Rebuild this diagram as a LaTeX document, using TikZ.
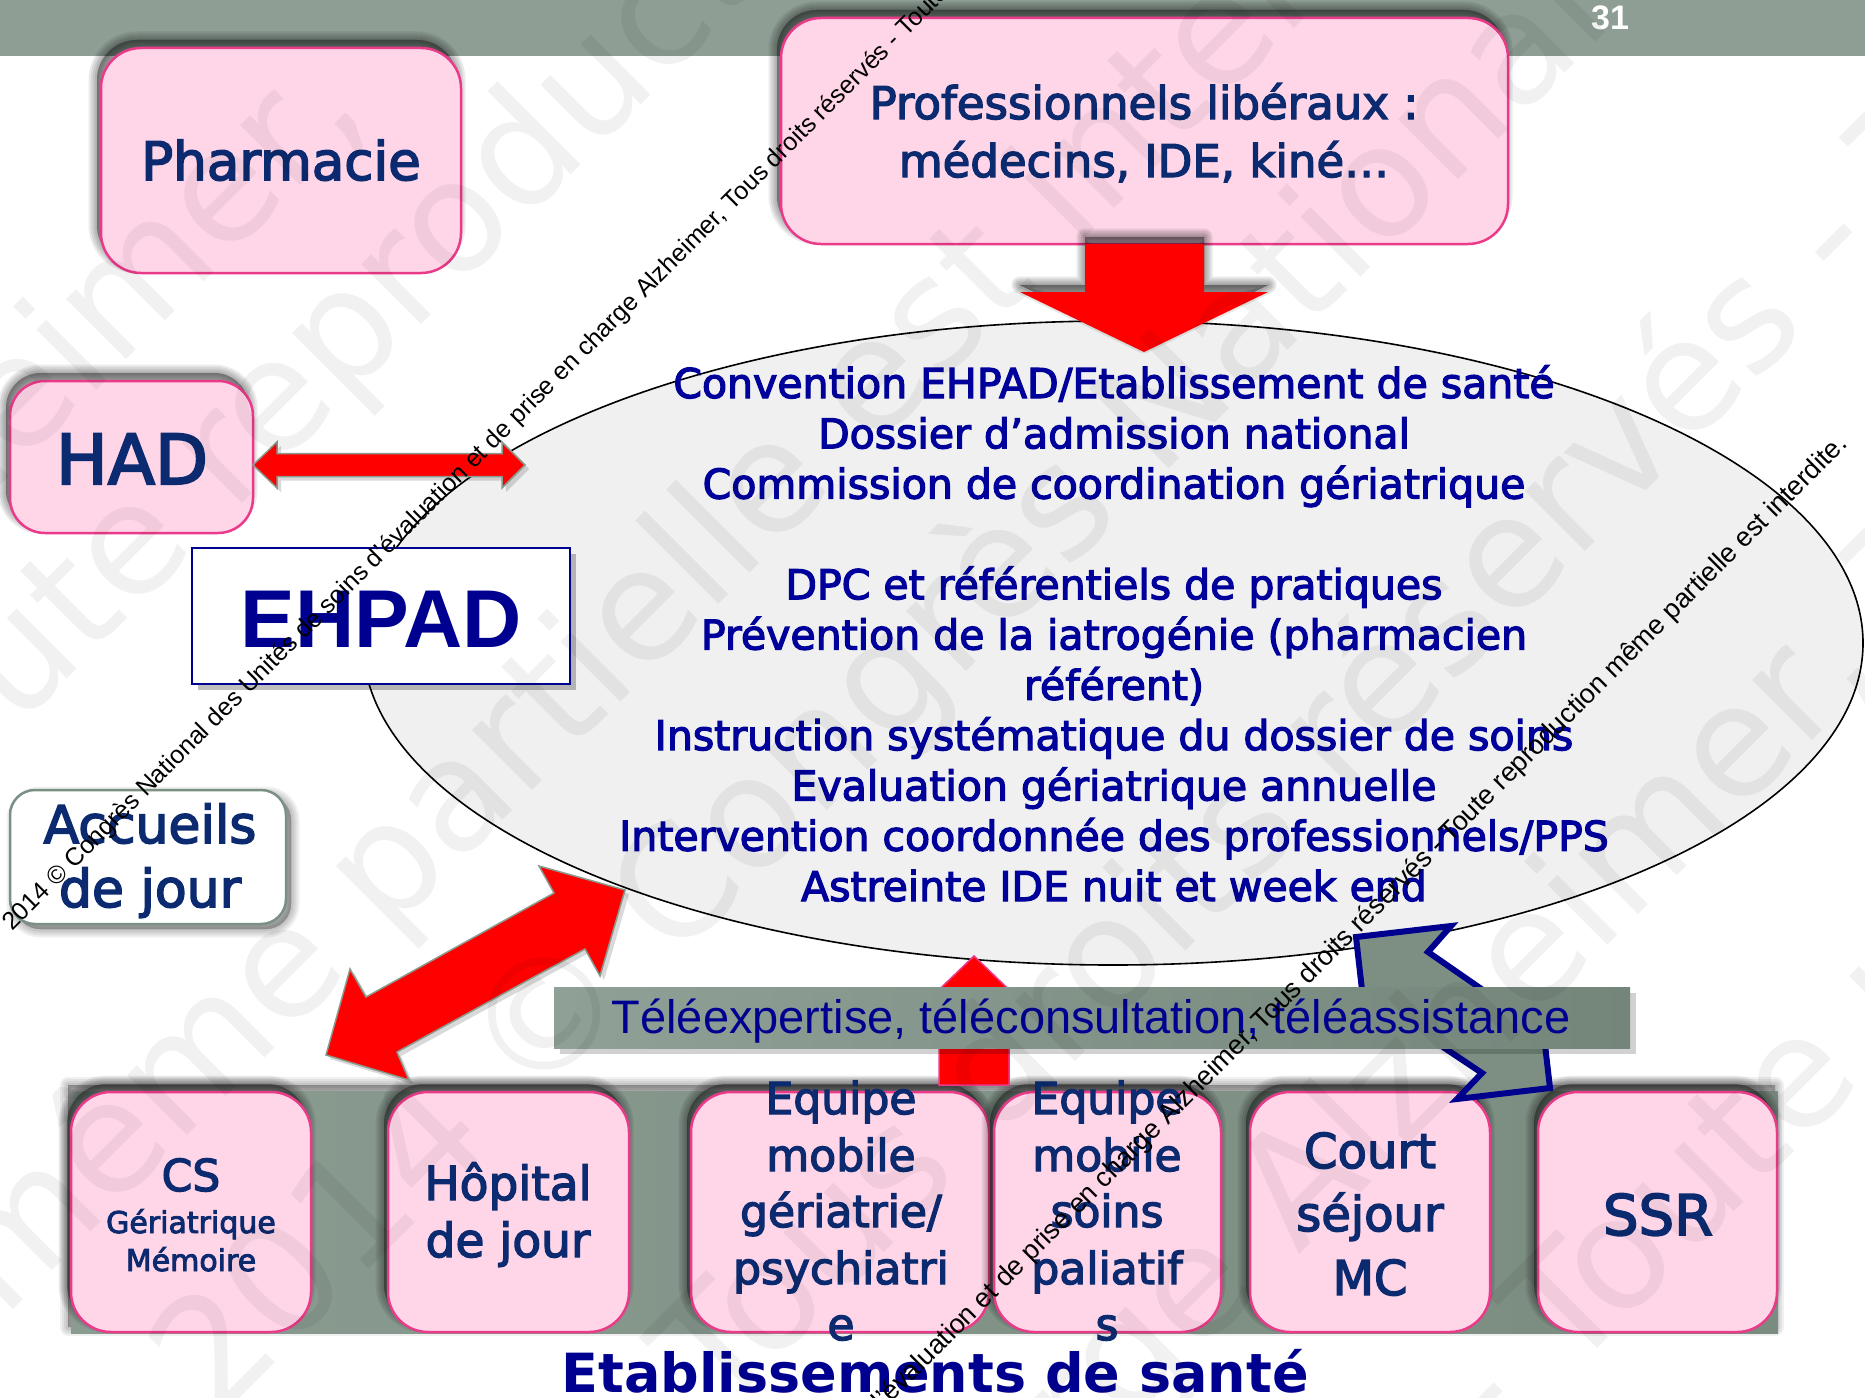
\documentclass[tikz,border=0pt]{standalone}
\usepackage{fontspec}
\setmainfont{DejaVu Sans}
\newfontfamily\arial{Liberation Sans}
\newfontfamily\heavy[FakeBold=3]{DejaVu Sans}
\usetikzlibrary{fit,shapes.geometric}

\definecolor{bandgrey}{HTML}{8E9E94}
\definecolor{bandleft}{HTML}{8A9B91}
\definecolor{bandright}{HTML}{7A8B7F}
\definecolor{barleft}{HTML}{8FA096}
\definecolor{barright}{HTML}{74857A}
\definecolor{pinkfill}{HTML}{FFD6E8}
\definecolor{pinkline}{HTML}{EC3A8A}
\definecolor{navytext}{HTML}{0B2A6F}
\definecolor{bluetext}{HTML}{00009A}
\definecolor{boldblue}{HTML}{000090}
\definecolor{ellfill}{HTML}{F0F0F0}
\definecolor{arrowred}{HTML}{FF0000}
\definecolor{arrowedge}{HTML}{8A9A8E}
\definecolor{notchfill}{HTML}{7C8F82}
\definecolor{notchline}{HTML}{00008E}
\definecolor{greenline}{HTML}{7A9085}

\newcommand\fs[1]{\fontsize{#1}{#1}\selectfont}
% soft shadow: shift, opacity, extra options, path
\newcommand\haze[4]{%
  \begin{scope}[shift={#1}]
    \foreach \w in {1,5,9,13,17}{%
      \path[fill=black,draw=black,opacity=#2,line width=\w pt,line join=round,#3] #4;}
  \end{scope}}

\tikzset{
  pinkbox/.style={draw=pinkline, line width=2.5pt, fill=pinkfill, rounded corners=40pt, inner sep=0pt},
  lbl/.style={anchor=base, text=navytext, inner sep=0pt},
  elltext/.style={anchor=base, text=bluetext, inner sep=0pt, font=\heavy\fs{41}},
  redarrow/.style={fill=arrowred, draw=arrowedge, line width=1.5pt, line join=miter},
  wmline/.style={font=\arial\fs{#1}, rotate=45, inner sep=0pt, text=black},
  ghost/.style={font=\fs{155}, rotate=45, anchor=base west, inner sep=0pt, text=black, text opacity=0.055},
}

\begin{document}
\begin{tikzpicture}[x=1pt,y=-1pt]
\useasboundingbox (0,0) rectangle (1865,1397);
\fill[white] (0,0) rectangle (1865,1397);

% title band
\fill[bandgrey] (0,0) rectangle (1865,56);
\node[anchor=base, text=white, font=\arial\bfseries\fs{34}, inner sep=0pt] (pagenum) at (1610,30) {31};

% top boxes
\haze{(-4,-8)}{0.08}{rounded corners=40pt}{(101,48) rectangle (461,273)}
\node[pinkbox, fit={(101,48) (461,273)}] (pharm) {};
\haze{(-4,-8)}{0.08}{rounded corners=40pt}{(781,18) rectangle (1508,244)}
\node[pinkbox, fit={(781,18) (1508,244)}] (prof) {};
\haze{(-4,-8)}{0.08}{rounded corners=35pt}{(10,381) rectangle (253,533)}
\node[pinkbox, rounded corners=35pt, fit={(10,381) (253,533)}] (had) {};

% central ellipse
\node[ellipse, draw=black, line width=1.6pt, fill=ellfill, minimum width=1500, minimum height=644, inner sep=0pt] (ell) at (1113,643) {};
\node[elltext] (e1) at (1114,398) {Convention EHPAD/Etablissement de santé};
\node[elltext] (e2) at (1114,448.3) {Dossier d’admission national};
\node[elltext] (e3) at (1114,498.6) {Commission de coordination gériatrique};
\node[elltext] (e4) at (1114,599.2) {DPC et référentiels de pratiques};
\node[elltext] (e5) at (1114,649.5) {Prévention de la iatrogénie (pharmacien};
\node[elltext] (e6) at (1114,699.8) {référent)};
\node[elltext] (e7) at (1114,750.1) {Instruction systématique du dossier de soins};
\node[elltext] (e8) at (1114,800.4) {Evaluation gériatrique annuelle};
\node[elltext] (e9) at (1114,850.7) {Intervention coordonnée des professionnels/PPS};
\node[elltext] (e10) at (1114,901) {Astreinte IDE nuit et week end};

% arrow from the liberal professionals down to the ellipse
\haze{(0,-7)}{0.09}{}{(1085,244) -- (1204,244) -- (1204,292) -- (1268,292) -- (1144,352) -- (1020,292) -- (1085,292) -- cycle}
\fill[arrowred] (1085,244) -- (1204,244) -- (1204,292) -- (1268,292) -- (1144,352) -- (1020,292) -- (1085,292) -- cycle;

% HAD <-> ellipse
\fill[black,opacity=0.15] (257,469) -- (281,446) -- (281,457.5) -- (506,457.5) -- (506,446) -- (529,469) -- (506,492) -- (506,480.5) -- (281,480.5) -- (281,492) -- cycle;
\path[redarrow] (253,465) -- (277,442) -- (277,453.5) -- (502,453.5) -- (502,442) -- (525,465) -- (502,488) -- (502,476.5) -- (277,476.5) -- (277,488) -- cycle;

% EHPAD
\fill[black,opacity=0.25] (198,554) rectangle (576,690);
\node[draw=boldblue, line width=2.5pt, fill=white, inner sep=0pt, fit={(192,548) (570,684)}] (ehpadbox) {};
\node[anchor=base, text=boldblue, font=\arial\bfseries\fs{82}, inner sep=0pt] (ehpad) at (381,647) {EHPAD};

% Accueils de jour
\haze{(5,5)}{0.06}{rounded corners=25pt}{(10,790) rectangle (286,924)}
\node[draw=greenline, line width=2.5pt, fill=white, rounded corners=25pt, inner sep=0pt, fit={(10,790) (286,924)}] (accbox) {};

% band of health establishments
\haze{(-3,-6)}{0.06}{}{(71,1091) rectangle (1778,1333)}
\node[left color=bandleft, right color=bandright, inner sep=0pt, fit={(71,1091) (1778,1333)}] (band) {};
\foreach \nm/\xa/\xb in {cs/71/311, hdj/388/629, emg/691/989, emp/994/1221, csmc/1250/1490, ssr/1538/1777}{
  \haze{(-4,-8)}{0.08}{rounded corners=40pt}{(\xa,1092) rectangle (\xb,1332)}
  \node[pinkbox, fit={(\xa,1092) (\xb,1332)}] (\nm) {};
}

% ellipse <-> establishments
\fill[black,opacity=0.15] (629,894) -- (604,980) -- (589,953) -- (401,1056) -- (413,1084) -- (330,1059) -- (354,973) -- (370,1001) -- (558,897) -- (543,870) -- cycle;
\path[redarrow] (625,890) -- (600,976) -- (585,949) -- (397,1052) -- (409,1080) -- (326,1055) -- (350,969) -- (366,997) -- (554,893) -- (539,866) -- cycle;

% establishments -> ellipse
\path[fill=arrowred, draw=pinkline, line width=1.5pt] (974,956) -- (1028,1008) -- (1009,1008) -- (1009,1085) -- (939,1085) -- (939,1008) -- (920,1008) -- cycle;

% notched ribbon to the SSR side
\path[fill=notchfill, draw=notchline, line width=6pt, line join=miter] (1356,937) -- (1451,926) -- (1428,952) -- (1480,988) -- (1440,1045) -- (1482,1073) -- (1457,1099) -- (1550,1088) -- (1545,1045) -- (1362,990) -- cycle;

% tele-medicine bar
\fill[black,opacity=0.18] (560,993) rectangle (1636,1054);
\node[left color=barleft, right color=barright, inner sep=0pt, fit={(554,987) (1630,1048)}] (telebar) {};
\node[anchor=base, text=boldblue, font=\arial\fs{47}, inner sep=0pt] (tele) at (1091,1033) {Téléexpertise, téléconsultation, téléassistance};

% box labels
\node[lbl, font=\heavy\fs{53}] (pharmt) at (281,180) {Pharmacie};
\node[lbl, font=\heavy\fs{45}] (prof1) at (1144,119) {Professionnels libéraux :};
\node[lbl, font=\heavy\fs{45}] (prof2) at (1144,177) {médecins, IDE, kiné…};
\node[lbl, font=\heavy\fs{69}] (hadt) at (132,484) {HAD};
\node[lbl, font=\heavy\fs{52}] (acc1) at (150,843) {Accueils};
\node[lbl, font=\heavy\fs{52}] (acc2) at (150,907) {de jour};
\node[lbl, font=\heavy\fs{44}] (cs1) at (191,1191) {CS};
\node[lbl, font=\heavy\fs{30}] (cs2) at (191,1233) {Gériatrique};
\node[lbl, font=\heavy\fs{30}] (cs3) at (191,1271) {Mémoire};
\node[lbl, font=\heavy\fs{47}] (hdj1) at (508,1200) {Hôpital};
\node[lbl, font=\heavy\fs{47}] (hdj2) at (508,1257) {de jour};
\node[lbl, font=\heavy\fs{44}] (emg1) at (841,1114) {Equipe};
\node[lbl, font=\heavy\fs{44}] (emg2) at (841,1171) {mobile};
\node[lbl, font=\heavy\fs{44}] (emg3) at (841,1227) {gériatrie/};
\node[lbl, font=\heavy\fs{44}] (emg4) at (841,1284) {psychiatri};
\node[lbl, font=\heavy\fs{44}] (emg5) at (841,1340) {e};
\node[lbl, font=\heavy\fs{44}] (emp1) at (1107,1114) {Equipe};
\node[lbl, font=\heavy\fs{44}] (emp2) at (1107,1171) {mobile};
\node[lbl, font=\heavy\fs{44}] (emp3) at (1107,1227) {soins};
\node[lbl, font=\heavy\fs{44}] (emp4) at (1107,1284) {paliatif};
\node[lbl, font=\heavy\fs{44}] (emp5) at (1107,1340) {s};
\node[lbl, font=\heavy\fs{48}] (csmc1) at (1370,1168) {Court};
\node[lbl, font=\heavy\fs{48}] (csmc2) at (1370,1231) {séjour};
\node[lbl, font=\heavy\fs{48}] (csmc3) at (1370,1295) {MC};
\node[lbl, font=\heavy\fs{56}] (ssrt) at (1658,1235) {SSR};
\node[anchor=base, text=boldblue, font=\bfseries\fs{54}, inner sep=0pt] (etab) at (935,1392) {Etablissements de santé};

% copyright lines
\node[wmline=25, anchor=base west] (copyA) at (12,932) {2014 © Congrès National des Unités de soins d’évaluation et de prise en charge Alzheimer, Tous droits réservés - Toute reproduction même partielle est interdite.};
\node[wmline=27, anchor=base east] (copyB) at (1849,445) {2014 © Congrès National des Unités de soins d’évaluation et de prise en charge Alzheimer, Tous droits réservés - Toute reproduction même partielle est interdite.};

% faint background lettering
\node[ghost] (g0) at (-214,700) {Alzheimer,};
\node[ghost] (g1) at (-98,844) {Toute reproduction};
\node[ghost] (g2) at (3,1320) {même partielle est interdite.};
\node[ghost] (g3) at (216,1422) {2014 © Congrès National des Unités};
\node[ghost] (g4) at (100,2037) {Alzheimer, Tous droits réservés - Toute reproduction};
\node[ghost] (g5) at (886,1667) {charge Alzheimer, Tous droits};
\node[ghost] (g6) at (991,1955) {réservés - Toute reproduction};
\end{tikzpicture}
\end{document}
